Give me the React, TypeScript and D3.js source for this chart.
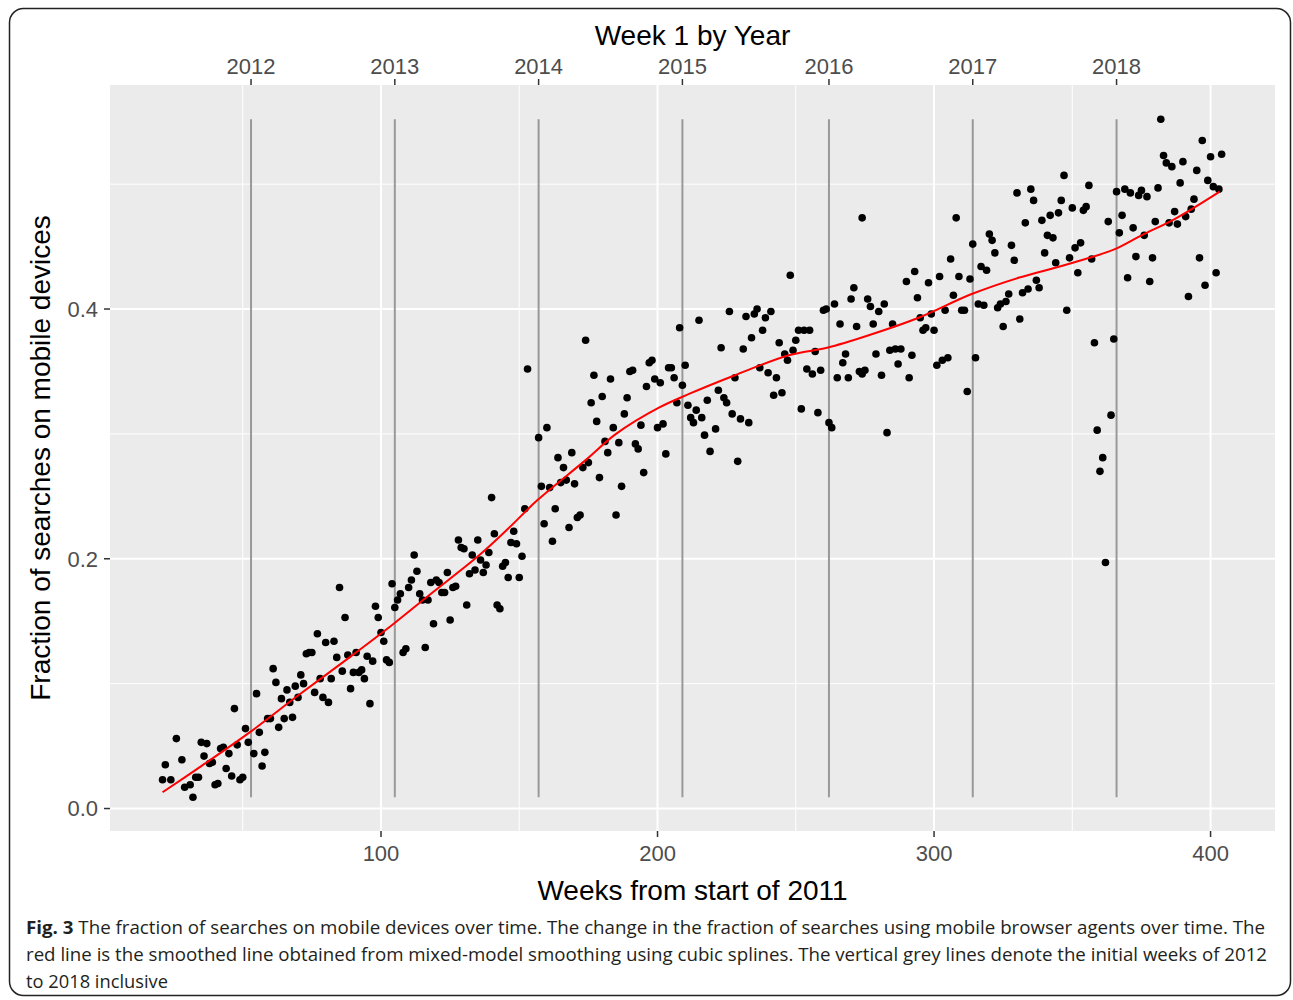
import React from "react";
import * as d3 from "d3";

const weeks = [
  21, 22, 24, 26, 28, 29, 31, 32, 33, 34, 35, 36, 37, 38, 39, 40, 41, 42, 43, 44, 45, 46, 47, 48, 49, 50, 51, 52, 54, 55, 56, 57, 58, 59, 60, 61, 62, 63, 64, 65, 66, 67, 68, 69, 70, 71, 72, 73, 74, 75, 76, 77, 78, 79, 80, 81, 82, 83, 84, 85, 86, 87, 88, 89,
  90, 91, 92, 93, 94, 95, 96, 97, 98, 99, 100, 101, 102, 103, 104, 105, 106, 107, 108, 109, 110, 111, 112, 113, 114, 115, 116, 117, 118, 119, 120, 121, 122, 123, 124, 125, 126, 127, 128, 129, 130, 131, 132, 133, 134, 135, 136, 137, 138, 139, 140, 141, 142, 143, 144, 145, 146, 147, 148, 149, 150, 151, 152,
  153, 157, 158, 159, 160, 161, 162, 163, 164, 165, 166, 167, 168, 169, 170, 171, 172, 173, 174, 175, 176, 177, 178, 179, 180, 181, 182, 183, 184, 185, 186, 187, 188, 189, 190, 191, 192, 193, 194, 195, 196, 197, 198, 199, 200, 201, 202, 203, 204, 205, 206, 207, 208, 209, 210, 211, 212, 213, 214, 215, 216, 217, 218, 219,
  221, 222, 223, 224, 225, 226, 227, 228, 229, 230, 231, 232, 233, 234, 235, 236, 237, 238, 239, 240, 241, 242, 243, 244, 245, 246, 247, 248, 249, 250, 251, 252, 253, 254, 255, 256, 257, 258, 259, 260, 261, 262, 263, 264, 265, 266, 267, 268, 269, 270, 271, 272, 273, 274, 274, 275, 276, 277, 278, 279, 280, 281, 282, 283,
  284, 285, 286, 287, 288, 290, 291, 292, 293, 294, 295, 296, 297, 298, 299, 300, 301, 302, 303, 304, 305, 306, 307, 308, 309, 310, 311, 312, 313, 314, 315, 316, 317, 318, 319, 320, 321, 322, 323, 324, 325, 326, 327, 328, 329, 330, 331, 332, 333, 334, 335, 336, 337, 338, 339, 340, 341, 342, 343, 344, 345, 346, 347, 348, 349,
  350, 351, 352, 353, 354, 355, 356, 357, 358, 359, 360, 361, 362, 363, 364, 365, 366, 367, 368, 369, 370, 371, 372, 373, 374, 375, 376, 377, 378, 379, 380, 381, 382, 383, 384, 385, 386, 387, 388, 389, 390, 391, 392, 393, 394, 395, 396, 397, 398, 399, 400, 401, 402, 403, 404,
];

const fractions = [
  0.023, 0.035, 0.023, 0.056, 0.039, 0.017, 0.019, 0.009, 0.025, 0.025, 0.053, 0.042, 0.052, 0.036, 0.037, 0.019, 0.02, 0.048, 0.049, 0.032, 0.044, 0.026, 0.08, 0.051, 0.023, 0.025, 0.064, 0.053, 0.044, 0.092, 0.061, 0.034, 0.045, 0.072, 0.072, 0.112, 0.101, 0.065, 0.088, 0.072, 0.095, 0.085, 0.073, 0.098, 0.089, 0.107, 0.1, 0.124, 0.125, 0.125, 0.093, 0.14, 0.104, 0.089, 0.133, 0.085, 0.104, 0.134, 0.121, 0.177, 0.11, 0.153, 0.123, 0.096,
  0.109, 0.125, 0.109, 0.111, 0.104, 0.122, 0.084, 0.118, 0.162, 0.153, 0.141, 0.134, 0.119, 0.117, 0.18, 0.161, 0.167, 0.172, 0.125, 0.128, 0.177, 0.183, 0.203, 0.19, 0.172, 0.167, 0.129, 0.167, 0.181, 0.148, 0.183, 0.181, 0.173, 0.173, 0.189, 0.151, 0.177, 0.178, 0.215, 0.209, 0.208, 0.163, 0.188, 0.203, 0.191, 0.215, 0.199, 0.189, 0.195, 0.205, 0.249, 0.22, 0.163, 0.16, 0.194, 0.197, 0.185, 0.213, 0.222, 0.212, 0.185, 0.202, 0.24,
  0.352, 0.297, 0.258, 0.228, 0.305, 0.257, 0.214, 0.24, 0.281, 0.261, 0.273, 0.263, 0.225, 0.285, 0.26, 0.233, 0.235, 0.273, 0.375, 0.277, 0.325, 0.347, 0.31, 0.265, 0.33, 0.294, 0.285, 0.344, 0.305, 0.235, 0.293, 0.258, 0.316, 0.329, 0.35, 0.351, 0.292, 0.288, 0.307, 0.269, 0.338, 0.357, 0.359, 0.344, 0.305, 0.341, 0.308, 0.284, 0.353, 0.353, 0.345, 0.325, 0.385, 0.339, 0.355, 0.323, 0.313, 0.309, 0.319, 0.391, 0.313, 0.299, 0.327, 0.286,
  0.304, 0.335, 0.369, 0.329, 0.325, 0.398, 0.316, 0.345, 0.278, 0.312, 0.368, 0.394, 0.309, 0.377, 0.396, 0.4, 0.353, 0.383, 0.393, 0.349, 0.398, 0.331, 0.345, 0.373, 0.333, 0.364, 0.359, 0.427, 0.367, 0.375, 0.383, 0.32, 0.383, 0.352, 0.383, 0.348, 0.366, 0.317, 0.351, 0.399, 0.4, 0.309, 0.305, 0.404, 0.345, 0.388, 0.357, 0.364, 0.345, 0.408, 0.417, 0.386, 0.35, 0.348, 0.473, 0.351, 0.408, 0.402, 0.388, 0.364, 0.398, 0.347, 0.404, 0.301,
  0.367, 0.388, 0.368, 0.356, 0.368, 0.422, 0.345, 0.363, 0.43, 0.409, 0.393, 0.383, 0.385, 0.421, 0.396, 0.383, 0.355, 0.426, 0.359, 0.399, 0.361, 0.44, 0.411, 0.473, 0.426, 0.399, 0.399, 0.334, 0.424, 0.452, 0.361, 0.404, 0.434, 0.403, 0.431, 0.46, 0.455, 0.445, 0.401, 0.404, 0.386, 0.406, 0.412, 0.451, 0.439, 0.493, 0.392, 0.413, 0.469, 0.416, 0.496, 0.487, 0.423, 0.417, 0.471, 0.445, 0.459, 0.475, 0.457, 0.437, 0.477, 0.487, 0.507, 0.399, 0.441,
  0.481, 0.449, 0.429, 0.453, 0.479, 0.482, 0.499, 0.44, 0.373, 0.303, 0.27, 0.281, 0.197, 0.47, 0.315, 0.376, 0.494, 0.461, 0.475, 0.496, 0.425, 0.493, 0.465, 0.442, 0.491, 0.495, 0.459, 0.49, 0.422, 0.441, 0.47, 0.497, 0.552, 0.523, 0.517, 0.469, 0.514, 0.478, 0.468, 0.501, 0.518, 0.474, 0.41, 0.48, 0.488, 0.511, 0.441, 0.535, 0.419, 0.503, 0.522, 0.498, 0.429, 0.496, 0.524,
];

const smoothWeeks = [21, 35, 52.5, 70, 88.6, 104.6, 117.5, 135.6, 146.4, 156.6, 174, 185, 200.5, 211.4, 228, 247.5, 261.3, 276.4, 294.4, 313.6, 330.5, 348.6, 365.4, 375, 387, 403.3];
const smoothValues = [0.013, 0.034, 0.061, 0.0905, 0.121, 0.148, 0.171, 0.203, 0.225, 0.247, 0.279, 0.3, 0.321, 0.332, 0.347, 0.363, 0.369, 0.379, 0.393, 0.412, 0.425, 0.436, 0.448, 0.459, 0.472, 0.494];

const yearLabels = ["2012", "2013", "2014", "2015", "2016", "2017", "2018"];
const yearWeeks = [53, 105, 157, 209, 262, 314, 366];

const xMajor = [100, 200, 300, 400];
const xMinor = [50, 150, 250, 350];
const yMajor = [0, 0.2, 0.4];
const yMinor = [0.1, 0.3, 0.5];

const captionLine1 = " The fraction of searches on mobile devices over time. The change in the fraction of searches using mobile browser agents over time. The";
const captionLine2 = "red line is the smoothed line obtained from mixed-model smoothing using cubic splines. The vertical grey lines denote the initial weeks of 2012";
const captionLine3 = "to 2018 inclusive";

export default function App() {
  const W = 1293;
  const H = 1000;
  const L = 110, R = 1275, T = 85, B = 831;
  const x = d3.scaleLinear().domain([2, 423.3]).range([L, R]);
  const y = d3.scaleLinear().domain([-0.018, 0.5794]).range([B, T]);
  const font = "'Liberation Sans', Arial, sans-serif";
  const tickCol = "#4D4D4D";

  const pts = weeks.map((w, i) => ({ w, v: fractions[i] }));
  const [ymin, ymax] = d3.extent(fractions) as [number, number];
  const smooth = smoothWeeks.map((w, i) => [w, smoothValues[i]] as [number, number]);
  const line = d3
    .line<[number, number]>()
    .x((d) => x(d[0]))
    .y((d) => y(d[1]))
    .curve(d3.curveCatmullRom.alpha(0.5));

  return (
    <svg width={W} height={H} style={{ position: "absolute", left: 0, top: 0, background: "#fff" }}>
      <rect x={9.5} y={8.5} width={1281} height={987} rx={14} fill="#fff" stroke="#222" strokeWidth={1.5} />
      <rect x={L} y={T} width={R - L} height={B - T} fill="#EBEBEB" />
      {xMinor.map((t) => (
        <line key={"xm" + t} x1={x(t)} x2={x(t)} y1={T} y2={B} stroke="#fff" strokeWidth={1} />
      ))}
      {yMinor.map((t) => (
        <line key={"ym" + t} x1={L} x2={R} y1={y(t)} y2={y(t)} stroke="#fff" strokeWidth={1} />
      ))}
      {xMajor.map((t) => (
        <line key={"xM" + t} x1={x(t)} x2={x(t)} y1={T} y2={B} stroke="#fff" strokeWidth={2} />
      ))}
      {yMajor.map((t) => (
        <line key={"yM" + t} x1={L} x2={R} y1={y(t)} y2={y(t)} stroke="#fff" strokeWidth={2} />
      ))}
      {yearWeeks.map((w) => (
        <line key={"g" + w} x1={x(w)} x2={x(w)} y1={y(ymin)} y2={y(ymax)} stroke="#999" strokeWidth={2} />
      ))}
      {pts.map((p, i) => (
        <circle key={"p" + i} cx={x(p.w)} cy={y(p.v)} r={3.8} fill="#000" />
      ))}
      <path d={line(smooth) || ""} fill="none" stroke="#FF0000" strokeWidth={2} />

      {/* left axis */}
      {yMajor.map((t) => (
        <g key={"yl" + t}>
          <line x1={L - 6} x2={L} y1={y(t)} y2={y(t)} stroke="#333" strokeWidth={1.5} />
          <text x={L - 12} y={y(t)} dy="0.36em" textAnchor="end" fontFamily={font} fontSize={22} fill={tickCol}>
            {d3.format(".1f")(t)}
          </text>
        </g>
      ))}
      {/* bottom axis */}
      {xMajor.map((t) => (
        <g key={"xl" + t}>
          <line x1={x(t)} x2={x(t)} y1={B} y2={B + 6} stroke="#333" strokeWidth={1.5} />
          <text x={x(t)} y={B + 30} textAnchor="middle" fontFamily={font} fontSize={22} fill={tickCol}>
            {t}
          </text>
        </g>
      ))}
      {/* top axis */}
      {yearWeeks.map((w, i) => (
        <g key={"tl" + w}>
          <line x1={x(w)} x2={x(w)} y1={T - 6} y2={T} stroke="#333" strokeWidth={1.5} />
          <text x={x(w)} y={T - 11} textAnchor="middle" fontFamily={font} fontSize={22} fill={tickCol}>
            {yearLabels[i]}
          </text>
        </g>
      ))}
      <text x={(L + R) / 2} y={45} textAnchor="middle" fontFamily={font} fontSize={28} fill="#000">
        Week 1 by Year
      </text>
      <text x={(L + R) / 2} y={900} textAnchor="middle" fontFamily={font} fontSize={28} fill="#000">
        Weeks from start of 2011
      </text>
      <text
        transform={`translate(50,${(T + B) / 2}) rotate(-90)`}
        textAnchor="middle"
        fontFamily={font}
        fontSize={28}
        fill="#000"
      >
        Fraction of searches on mobile devices
      </text>

      {/* caption */}
      <text x={26} y={934} fontFamily="'Open Sans', sans-serif" fontSize={18} fill="#231F20" textLength={1239} lengthAdjust="spacingAndGlyphs">
        <tspan fontWeight="bold">Fig. 3</tspan>
        {captionLine1}
      </text>
      <text x={26} y={961} fontFamily="'Open Sans', sans-serif" fontSize={18} fill="#231F20" textLength={1241} lengthAdjust="spacingAndGlyphs">
        {captionLine2}
      </text>
      <text x={26} y={988} fontFamily="'Open Sans', sans-serif" fontSize={18} fill="#231F20" textLength={142} lengthAdjust="spacingAndGlyphs">
        {captionLine3}
      </text>
    </svg>
  );
}
